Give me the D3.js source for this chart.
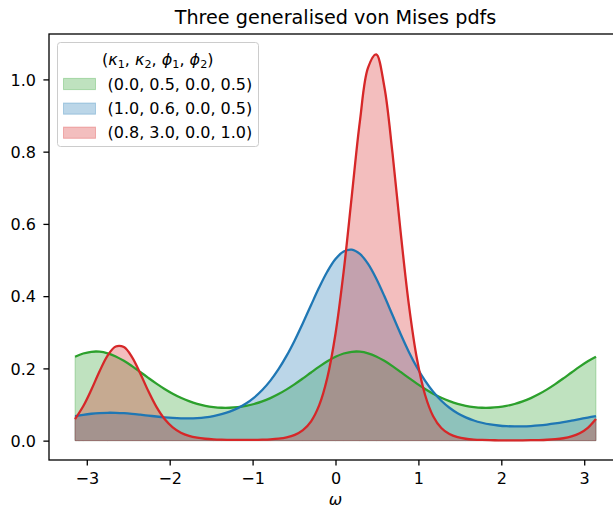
<!DOCTYPE html>
<html>
<head>
<meta charset="utf-8">
<script src="https://cdn.jsdelivr.net/npm/d3@7"></script>
<style>
  html, body { margin: 0; padding: 0; background: #fff; }
  svg { display: block; font-family: "DejaVu Sans", sans-serif; }
</style>
</head>
<body>
<svg id="chart" width="613" height="508"></svg>
<script>
// Angle grid over one period, -pi .. pi
const omega = [
  -3.1416, -3.0434, -2.9452, -2.8471, -2.7489, -2.6507, -2.5525, -2.4544,
  -2.3562, -2.2580, -2.1598, -2.0617, -1.9635, -1.8653, -1.7671, -1.6690,
  -1.5708, -1.4726, -1.3744, -1.2763, -1.1781, -1.0799, -0.9817, -0.8836,
  -0.7854, -0.6872, -0.5890, -0.4909, -0.3927, -0.2945, -0.1963, -0.0982,
   0.0000,  0.0982,  0.1963,  0.2945,  0.3927,  0.4909,  0.5890,  0.6872,
   0.7854,  0.8836,  0.9817,  1.0799,  1.1781,  1.2763,  1.3744,  1.4726,
   1.5708,  1.6690,  1.7671,  1.8653,  1.9635,  2.0617,  2.1598,  2.2580,
   2.3562,  2.4544,  2.5525,  2.6507,  2.7489,  2.8471,  2.9452,  3.0434,
   3.1416
];

// density for (k1, k2, phi1, phi2) = (0.0, 0.5, 0.0, 0.5)
const pdfA = [
  0.2321, 0.2412, 0.2460, 0.2463, 0.2418, 0.2331, 0.2209, 0.2062,
  0.1902, 0.1738, 0.1579, 0.1431, 0.1300, 0.1187, 0.1094, 0.1020,
  0.0965, 0.0929, 0.0910, 0.0910, 0.0926, 0.0961, 0.1014, 0.1086,
  0.1178, 0.1289, 0.1419, 0.1565, 0.1723, 0.1887, 0.2048, 0.2196,
  0.2321, 0.2412, 0.2460, 0.2463, 0.2418, 0.2331, 0.2209, 0.2062,
  0.1902, 0.1738, 0.1579, 0.1431, 0.1300, 0.1187, 0.1094, 0.1020,
  0.0965, 0.0929, 0.0910, 0.0910, 0.0926, 0.0961, 0.1014, 0.1086,
  0.1178, 0.1289, 0.1419, 0.1565, 0.1723, 0.1887, 0.2048, 0.2196,
  0.2321
];

// density for (1.0, 0.6, 0.0, 0.5)
const pdfB = [
  0.0680, 0.0716, 0.0744, 0.0762, 0.0771, 0.0769, 0.0759, 0.0741,
  0.0718, 0.0693, 0.0668, 0.0646, 0.0629, 0.0619, 0.0617, 0.0625,
  0.0645, 0.0679, 0.0731, 0.0803, 0.0900, 0.1028, 0.1193, 0.1401,
  0.1661, 0.1977, 0.2352, 0.2782, 0.3257, 0.3754, 0.4243, 0.4681,
  0.5026, 0.5237, 0.5287, 0.5168, 0.4892, 0.4489, 0.4002, 0.3476,
  0.2953, 0.2464, 0.2030, 0.1659, 0.1352, 0.1105, 0.0911, 0.0760,
  0.0645, 0.0558, 0.0495, 0.0449, 0.0419, 0.0400, 0.0393, 0.0394,
  0.0404, 0.0421, 0.0446, 0.0477, 0.0513, 0.0554, 0.0597, 0.0640,
  0.0680
];

// density for (0.8, 3.0, 0.0, 1.0)
const pdfC = [
  0.0598, 0.0952, 0.1410, 0.1914, 0.2355, 0.2607, 0.2590, 0.2312,
  0.1865, 0.1372, 0.0934, 0.0598, 0.0367, 0.0220, 0.0132, 0.0081,
  0.0052, 0.0035, 0.0026, 0.0021, 0.0019, 0.0019, 0.0021, 0.0027,
  0.0037, 0.0056, 0.0092, 0.0161, 0.0291, 0.0535, 0.0981, 0.1747,
  0.2960, 0.4677, 0.6770, 0.8847, 1.0326, 1.0691, 0.9797, 0.7964,
  0.5780, 0.3787, 0.2272, 0.1271, 0.0677, 0.0350, 0.0181, 0.0095,
  0.0052, 0.0030, 0.0019, 0.0013, 0.0010, 0.0009, 0.0009, 0.0010,
  0.0012, 0.0016, 0.0024, 0.0039, 0.0066, 0.0116, 0.0204, 0.0355,
  0.0598
];

const paramLabels = ["(0.0, 0.5, 0.0, 0.5)", "(1.0, 0.6, 0.0, 0.5)", "(0.8, 3.0, 0.0, 1.0)"];
const xTicks = [-3, -2, -1, 0, 1, 2, 3];
const yTicks = [0.0, 0.2, 0.4, 0.6, 0.8, 1.0];
const titleText = "Three generalised von Mises pdfs";

const colors = ["#2ca02c", "#1f77b4", "#d62728"];
const series = [pdfA, pdfB, pdfC];

const svg = d3.select("#chart");
const axLeft = 49, axRight = 622, axTop = 34, axBottom = 460;

const x = d3.scaleLinear().domain([-3.4558, 3.4558]).range([axLeft, axRight]);
const y = d3.scaleLinear().domain([-0.0536, 1.1257]).range([axBottom, axTop]);

const curve = d3.curveCatmullRom.alpha(0.5);
const area = d3.area()
  .x((d, i) => x(omega[i]))
  .y0(y(0))
  .y1(d => y(d))
  .curve(curve);
const line = d3.line()
  .x((d, i) => x(omega[i]))
  .y(d => y(d))
  .curve(curve);

// translucent fills first, then the curves on top
const fills = svg.append("g");
const lines = svg.append("g");
series.forEach((vals, s) => {
  fills.append("path")
    .attr("d", area(vals))
    .attr("fill", colors[s])
    .attr("fill-opacity", 0.3)
    .attr("stroke", colors[s])
    .attr("stroke-opacity", 0.3)
    .attr("stroke-width", 1);
  lines.append("path")
    .attr("d", line(vals))
    .attr("fill", "none")
    .attr("stroke", colors[s])
    .attr("stroke-width", 2.3)
    .attr("stroke-linejoin", "round")
    .attr("stroke-linecap", "butt");
});

// axes
const xAxis = d3.axisBottom(x)
  .tickValues(xTicks)
  .tickFormat(d3.format("d"))
  .tickSize(5.6)
  .tickSizeOuter(0)
  .tickPadding(7);
const yAxis = d3.axisLeft(y)
  .tickValues(yTicks)
  .tickFormat(d3.format(".1f"))
  .tickSize(5.6)
  .tickSizeOuter(0)
  .tickPadding(7.4);

const gx = svg.append("g").attr("transform", `translate(0,${axBottom})`).call(xAxis);
const gy = svg.append("g").attr("transform", `translate(${axLeft},0)`).call(yAxis);
[gx, gy].forEach(g => {
  g.select(".domain").remove();
  g.selectAll(".tick line").attr("stroke", "#000").attr("stroke-width", 1.3);
  g.selectAll(".tick text")
    .attr("fill", "#000")
    .style("font-family", "'DejaVu Sans', sans-serif")
    .style("font-size", "16px");
});
gy.selectAll(".tick text").attr("dy", "0.36em");

// frame (spines)
svg.append("rect")
  .attr("x", axLeft).attr("y", axTop)
  .attr("width", axRight - axLeft).attr("height", axBottom - axTop)
  .attr("fill", "none")
  .attr("stroke", "#000")
  .attr("stroke-width", 1.3);

// title
svg.append("text")
  .attr("x", (axLeft + axRight) / 2)
  .attr("y", 23.5)
  .attr("text-anchor", "middle")
  .style("font-size", "19.2px")
  .attr("fill", "#000")
  .text(titleText);

// x label
svg.append("text")
  .attr("x", (axLeft + axRight) / 2)
  .attr("y", 504.5)
  .attr("text-anchor", "middle")
  .style("font-size", "16px")
  .style("font-style", "italic")
  .attr("fill", "#000")
  .text("ω");

// legend
const lg = svg.append("g");
lg.append("rect")
  .attr("x", 57.5).attr("y", 42.5)
  .attr("width", 201).attr("height", 104)
  .attr("rx", 3).attr("ry", 3)
  .attr("fill", "#fff").attr("fill-opacity", 0.8)
  .attr("stroke", "#cccccc").attr("stroke-width", 1);

const lt = lg.append("text")
  .attr("x", 157.8).attr("y", 65)
  .attr("text-anchor", "middle")
  .style("font-size", "16px")
  .attr("fill", "#000");
const parts = [
  ["(", false, false], ["κ", true, false], ["1", false, true], [", ", false, false],
  ["κ", true, false], ["2", false, true], [", ", false, false],
  ["ϕ", true, false], ["1", false, true], [", ", false, false],
  ["ϕ", true, false], ["2", false, true], [")", false, false]
];
let lowered = false;
parts.forEach(([t, ital, sub]) => {
  const ts = lt.append("tspan").text(t);
  if (ital) ts.style("font-style", "italic");
  if (sub) { ts.style("font-size", "11.2px").attr("dy", 3.4); lowered = true; }
  else if (lowered) { ts.attr("dy", -3.4); lowered = false; }
});

const rowY = [84, 108.6, 132.7];
paramLabels.forEach((lab, i) => {
  lg.append("rect")
    .attr("x", 63.5).attr("y", rowY[i] - 5.6)
    .attr("width", 32).attr("height", 11.2)
    .attr("fill", colors[i]).attr("fill-opacity", 0.3)
    .attr("stroke", colors[i]).attr("stroke-opacity", 0.3)
    .attr("stroke-width", 1);
  lg.append("text")
    .attr("x", 107.5).attr("y", rowY[i] + 5.6)
    .style("font-size", "16px")
    .attr("fill", "#000")
    .text(lab);
});
</script>
</body>
</html>
